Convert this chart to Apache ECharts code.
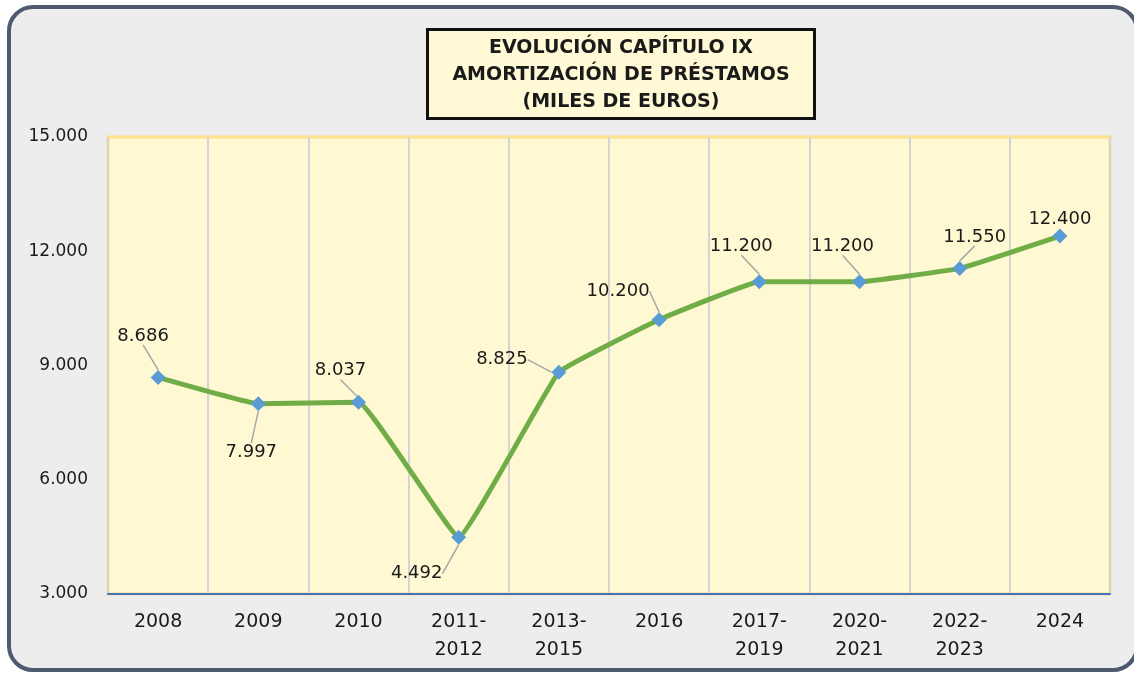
<!DOCTYPE html>
<html>
<head>
<meta charset="utf-8">
<script src="https://cdn.jsdelivr.net/npm/echarts@6/dist/echarts.min.js"></script>
<style>
html,body{margin:0;padding:0;background:#ffffff;}
#c{width:1134px;height:675px;}
</style>
</head>
<body>
<div id="c"></div>
<script>
var categories = ['2008','2009','2010','2011-2012','2013-2015','2016','2017-2019','2020-2021','2022-2023','2024'];
var values = [8686, 7997, 8037, 4492, 8825, 10200, 11200, 11200, 11550, 12400];
var yTicks = { min: 3000, max: 15000, interval: 3000 };
var titleText = 'EVOLUCIÓN CAPÍTULO IX\nAMORTIZACIÓN DE PRÉSTAMOS\n(MILES DE EUROS)';
// label offsets (style only)
var labelOffsets = [[-15,-20],[-7,70],[-18,-10],[-42,58],[-57,9],[-41,-7],[-18,-14],[-17,-14],[15,-10],[0,5]];

function fmt(v){ return String(v).replace(/\B(?=(\d{3})+(?!\d))/g, '.'); }

var chart = echarts.init(document.getElementById('c'), null, {renderer:'canvas'});
chart.setOption({
  backgroundColor: 'transparent',
  animation: false,
  graphic: [{
    type: 'rect', z: -10, silent: true,
    shape: { x: 9, y: 7, width: 1128, height: 663, r: 24 },
    style: { fill: '#ededed', stroke: '#4d5a70', lineWidth: 4 }
  }],
  title: {
    text: titleText,
    left: 596, top: 29,
    textAlign: 'center',
    padding: [6, 25, 3, 25],
    backgroundColor: '#fffad5',
    borderColor: '#111111',
    borderWidth: 3,
    textStyle: { fontFamily: 'DejaVu Sans', fontWeight: 'bold', fontSize: 19, lineHeight: 27, color: '#1a1a1a' }
  },
  grid: {
    left: 108, right: 24, top: 137, bottom: 81,
    show: true, backgroundColor: '#fff9d3', borderColor: '#ffe08c', borderWidth: 3
  },
  xAxis: {
    type: 'category',
    data: categories,
    boundaryGap: true,
    axisLine: { show: true, lineStyle: { color: '#4472c4', width: 2 } },
    axisTick: { show: false },
    splitLine: { show: true, lineStyle: { color: '#d4d4d4', width: 2 } },
    axisLabel: {
      interval: 0, margin: 14,
      fontFamily: 'DejaVu Sans', fontSize: 19, lineHeight: 28, color: '#1a1a1a',
      formatter: function(v){ return v.replace('-', '-\n'); }
    }
  },
  yAxis: {
    type: 'value',
    min: yTicks.min, max: yTicks.max, interval: yTicks.interval,
    axisLine: { show: false }, axisTick: { show: false },
    splitLine: { show: false },
    axisLabel: { margin: 20, fontFamily: 'DejaVu Sans', fontSize: 17, color: '#1a1a1a', formatter: fmt }
  },
  series: [{
    type: 'line',
    data: values.map(function(v, i){ return { value: v, labelLine: { show: i !== values.length - 1 } }; }),
    smooth: 0.08,
    lineStyle: { color: '#70ad47', width: 5 },
    symbol: 'diamond', symbolSize: 15,
    itemStyle: { color: '#5b9bd5' },
    label: {
      show: true, position: 'top', distance: 5,
      fontFamily: 'DejaVu Sans', fontSize: 18, color: '#1a1a1a',
      formatter: function(p){ return fmt(p.value); }
    },
    labelLine: { show: true, lineStyle: { color: '#a6a6a6', width: 1.5 } },
    labelLayout: function(p){
      var o = labelOffsets[p.dataIndex];
      return { dx: o[0], dy: o[1] };
    }
  }]
});
</script>
</body>
</html>
